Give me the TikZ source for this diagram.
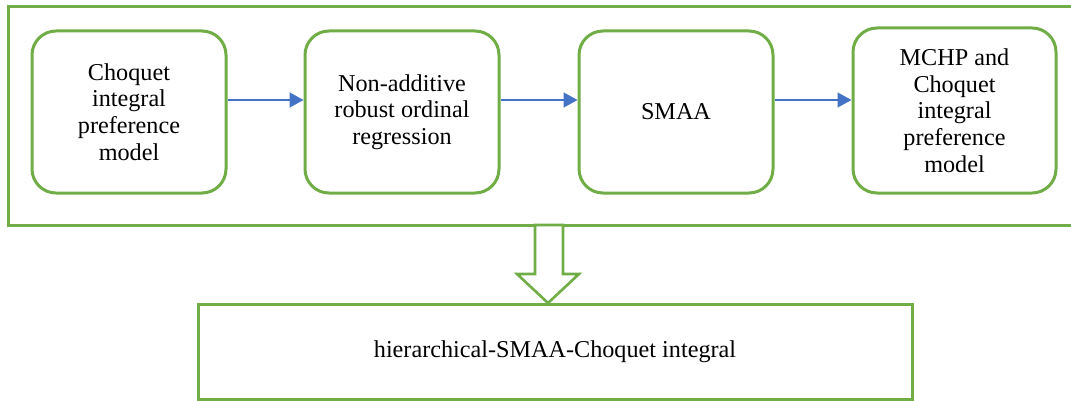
\documentclass[tikz,border=0pt]{standalone}
\usepackage{fontspec}
\setmainfont{Liberation Serif}
\usetikzlibrary{arrows.meta}
\definecolor{gr}{HTML}{70AD47}
\definecolor{bl}{HTML}{4472C4}
\begin{document}
\begin{tikzpicture}[x=1pt,y=-1pt,
  box/.style={draw=gr,line width=3pt,rounded corners=24pt,align=center,
    font=\fontsize{24.2}{26.7}\selectfont,inner sep=0pt},
  flow/.style={draw=bl,line width=1.5pt,-{Triangle[length=14pt,width=15pt]}},
  frame/.style={draw=gr,line width=3pt}]
\useasboundingbox (0,0) rectangle (1071,401);
\draw[frame] (1080,7) -- (8,7) -- (8,225) -- (1080,225);
\node[box,minimum width=194pt,minimum height=162pt] (a) at (129,112) {Choquet\\integral\\preference\\model};
\node[box,minimum width=194pt,minimum height=162pt] (b) at (402,112) {Non-additive\\robust ordinal\\regression};
\node[box,minimum width=194pt,minimum height=162pt] (c) at (676,112) {SMAA};
\node[box,minimum width=203pt,minimum height=165pt] (d) at (954.5,110.5) {MCHP and\\Choquet\\integral\\preference\\model};
\draw[flow] (a.east |- 0,100) -- (b.west |- 0,100);
\draw[flow] (b.east |- 0,100) -- (c.west |- 0,100);
\draw[flow] (c.east |- 0,100) -- (d.west |- 0,100);
\node[draw=gr,line width=3pt,minimum width=714pt,minimum height=95pt,inner sep=0pt,
  font=\fontsize{24.2}{26.7}\selectfont] (e) at (555,352) {hierarchical-SMAA-Choquet integral};
\draw[draw=gr,line width=2.6pt,fill=white,line join=miter]
  (535,225) -- (563,225) -- (563,274) -- (579,274) -- (548,303) -- (517,274) -- (535,274) -- cycle;
\end{tikzpicture}
\end{document}
